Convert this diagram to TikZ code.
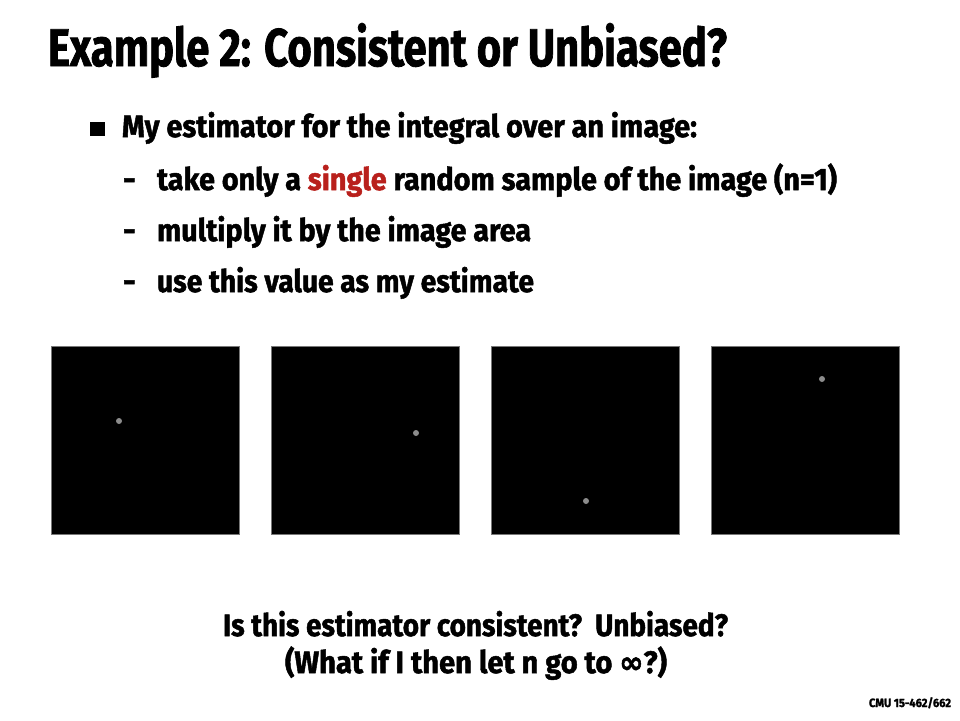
\documentclass[tikz,border=0pt]{standalone}
\usepackage{fontspec}
\usepackage{graphicx}
\setmainfont{Fira Sans}[BoldFont={Fira Sans Bold},BoldFeatures={FakeBold=1.6}]
\newfontfamily\symfont{DejaVu Sans}[FakeBold=1.6]
\definecolor{slidered}{RGB}{185,32,28}
\definecolor{boxgray}{RGB}{120,120,120}
\definecolor{dotgray}{RGB}{140,140,140}
\newcommand{\fitw}[2]{\resizebox{#1}{\height}{#2}}
\begin{document}
\begin{tikzpicture}[x=1pt,y=-1pt,
  txt/.style={inner sep=0pt,outer sep=0pt,anchor=base west,font=\bfseries},
  imgbox/.style={draw=boxgray,line width=0.8pt,fill=black},
  sample/.style={circle,fill=dotgray,inner sep=0pt,minimum size=6pt}]
\useasboundingbox[fill=white] (0,0) rectangle (960,720);
% title
\node[txt] (title) at (48,66) {\fitw{679pt}{\fontsize{53}{60}\selectfont Example 2: Consistent or Unbiased?}};
% bullet
\fill[black] (90,122) rectangle (105,136);
\node[txt] (l1) at (122,137) {\fitw{575pt}{\fontsize{31}{34}\selectfont My estimator for the integral over an image:}};
\node[txt] (d2) at (123,190) {\fontsize{31}{34}\selectfont -};
\node[txt] (l2) at (157,190) {\fitw{680pt}{\fontsize{31}{34}\selectfont take only a \textcolor{slidered}{single} random sample of the image (n=1)}};
\node[txt] (d3) at (123,241) {\fontsize{31}{34}\selectfont -};
\node[txt] (l3) at (157,241) {\fitw{374pt}{\fontsize{31}{34}\selectfont multiply it by the image area}};
\node[txt] (d4) at (123,292) {\fontsize{31}{34}\selectfont -};
\node[txt] (l4) at (157,292) {\fitw{377pt}{\fontsize{31}{34}\selectfont use this value as my estimate}};
% images
\draw[imgbox] (51,346) rectangle (239,534);
\draw[imgbox] (271,346) rectangle (459,534);
\draw[imgbox] (491,346) rectangle (679,534);
\draw[imgbox] (711,346) rectangle (899,534);
\node[sample] (s1) at (119,421) {};
\node[sample] (s2) at (416,433) {};
\node[sample] (s3) at (586,501) {};
\node[sample] (s4) at (822,379) {};
% question
\node[txt] (q1) at (223,636) {\fitw{505pt}{\fontsize{31}{34}\selectfont Is this estimator consistent?\ \ Unbiased?}};
\node[txt] (q2) at (285,673) {\fitw{382pt}{\fontsize{31}{34}\selectfont (What if I then let n go to {\symfont ∞}?)}};
% footer
\node[txt] (foot) at (869,707) {\fitw{82pt}{\fontsize{12}{14}\selectfont CMU 15-462/662}};
\end{tikzpicture}
\end{document}
